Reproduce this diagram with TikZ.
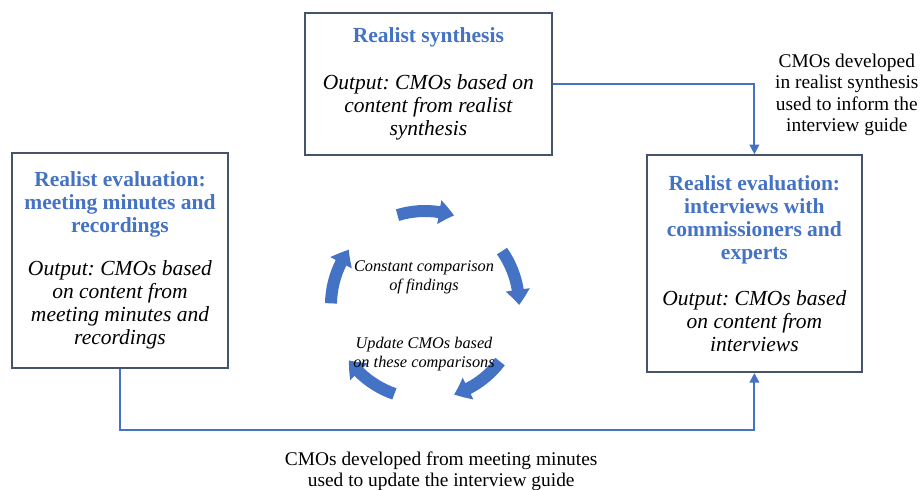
\documentclass[tikz,border=0pt]{standalone}
\usepackage{fontspec}
\setmainfont{Liberation Serif}
\usepackage{xcolor}
\usetikzlibrary{positioning,arrows.meta,calc,bending}
\definecolor{rsblue}{HTML}{4472C4}
\definecolor{rsslate}{HTML}{44546A}
\newcommand{\ttl}[1]{\textcolor{rsblue}{\bfseries #1}}
\frenchspacing

\begin{document}
\begin{tikzpicture}[
  box/.style={rectangle,draw=rsslate,line width=1.3pt,fill=white,align=center,inner sep=2pt,font=\fontsize{15.3}{16.4}\selectfont},
  conn/.style={-{Triangle[length=2.4mm,width=2.4mm]},rsblue,line width=1.4pt},
  cyc/.style={-{Triangle[length=3.8mm,width=5.8mm,bend]},rsblue,line width=3mm},
  lab/.style={align=center,font=\fontsize{13.8}{15.3}\selectfont},
  clab/.style={align=center,font=\fontsize{11.6}{13.5}\selectfont\itshape}]
\useasboundingbox (0,0) rectangle (23.025,-12.225);
% ---- three boxes ----
\node[box,minimum width=6.175cm,minimum height=3.55cm] (syn) at (10.71,-2.1)
  {\ttl{Realist synthesis}\\[0.6cm]\itshape Output: CMOs based on\\\itshape content from realist\\\itshape synthesis};
\node[box,minimum width=5.4cm,minimum height=5.375cm] (min) at (3.0,-6.51)
  {\ttl{Realist evaluation:}\\\ttl{meeting minutes and}\\\ttl{recordings}\\[0.5cm]\itshape Output: CMOs based\\\itshape on content from\\\itshape meeting minutes and\\\itshape recordings};
\node[box,minimum width=5.375cm,minimum height=5.425cm] (int) at (18.86,-6.59)
  {\ttl{Realist evaluation:}\\\ttl{interviews with}\\\ttl{commissioners and}\\\ttl{experts}\\[0.55cm]\itshape Output: CMOs based\\\itshape on content from\\\itshape interviews};
% ---- connectors ----
\coordinate (rail) at (10,-10.75);
\draw[conn] (syn.east) -| (int.north);
\draw[conn] (min.south) |- (rail) -| (int.south);
\node[lab] (l1) at (21.17,-2.37) {CMOs developed\\in realist synthesis\\used to inform the\\interview guide};
\node[lab] (l2) at (11.03,-11.78) {CMOs developed from meeting minutes\\used to update the interview guide};
% ---- comparison cycle ----
\coordinate (c) at (10.625,-7.625);
\foreach \a in {0,...,4}{
  \draw[cyc] ($(c)+({107-72*\a}:2.35)$) arc[start angle={107-72*\a},end angle={72-72*\a},radius=2.35];}
\node[clab] (ct) at (10.6,-6.93) {Constant comparison\\of findings};
\node[clab] (cb) at (10.6,-8.85) {Update CMOs based\\on these comparisons};
\end{tikzpicture}
\end{document}
